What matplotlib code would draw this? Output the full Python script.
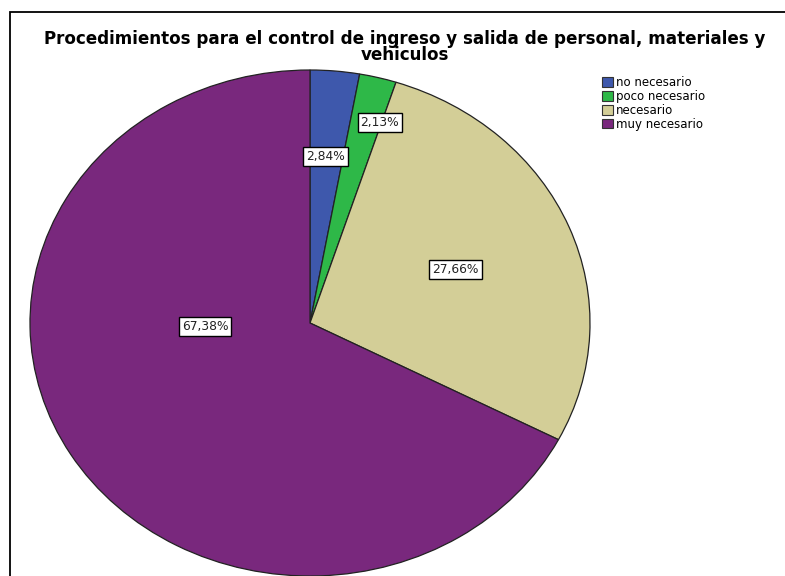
import numpy as np
import matplotlib.pyplot as plt
from matplotlib.patches import Rectangle, Patch

plt.rcParams['font.family'] = ['DejaVu Sans']

# datos
categorias = ['no necesario', 'poco necesario', 'necesario', 'muy necesario']
porcentajes = [2.84, 2.13, 27.66, 67.38]
colores = ['#3E58AC', '#2EB848', '#D3CE97', '#79287D']
titulo = 'Procedimientos para el control de ingreso y salida de personal, materiales y\nvehiculos'

# posicion de las etiquetas (radio relativo, angulo en grados)
lab_r = [0.66, 0.83, 0.56, 0.375]
lab_ang = [85.3, 72.5, 22.0, 182.0]

fig = plt.figure(figsize=(7.85, 5.76), dpi=100)

# marco del grafico
fig.patches.append(Rectangle((10 / 785, -0.1), 1.2, 1 - 12 / 576 + 0.1,
                             transform=fig.transFigure, fill=False,
                             edgecolor='black', linewidth=1.3))

ax = fig.add_axes([30 / 785, 0.0, 560 / 785, 506 / 576])
wedges, _ = ax.pie(porcentajes, colors=colores, startangle=90, counterclock=False,
                   radius=1, wedgeprops=dict(edgecolor='#222222', linewidth=0.9))
ax.set_aspect('auto')
ax.set_xlim(-1, 1)
ax.set_ylim(-1, 1)
ax.axis('off')

for p, r, a in zip(porcentajes, lab_r, lab_ang):
    t = np.deg2rad(a)
    ax.text(r * np.cos(t), r * np.sin(t), f'{p:.2f}%'.replace('.', ','),
            ha='center', va='center', fontsize=8.8, color='#222222',
            bbox=dict(boxstyle='square,pad=0.25', facecolor='white',
                      edgecolor='black', linewidth=1.0))

fig.text(405 / 785, 1 - 47 / 576, titulo, ha='center', va='center',
         fontsize=12.1, fontweight='bold', linespacing=0.92)

handles = [Patch(facecolor=c, edgecolor='#333333', linewidth=0.8) for c in colores]
fig.legend(handles, categorias, loc='upper left', bbox_to_anchor=(602 / 785, 1 - 76 / 576),
           frameon=False, fontsize=8.5, handlelength=0.9, handleheight=0.85,
           handletextpad=0.3, labelspacing=0.08, borderpad=0, borderaxespad=0)

fig.savefig('out.png', dpi=100)
